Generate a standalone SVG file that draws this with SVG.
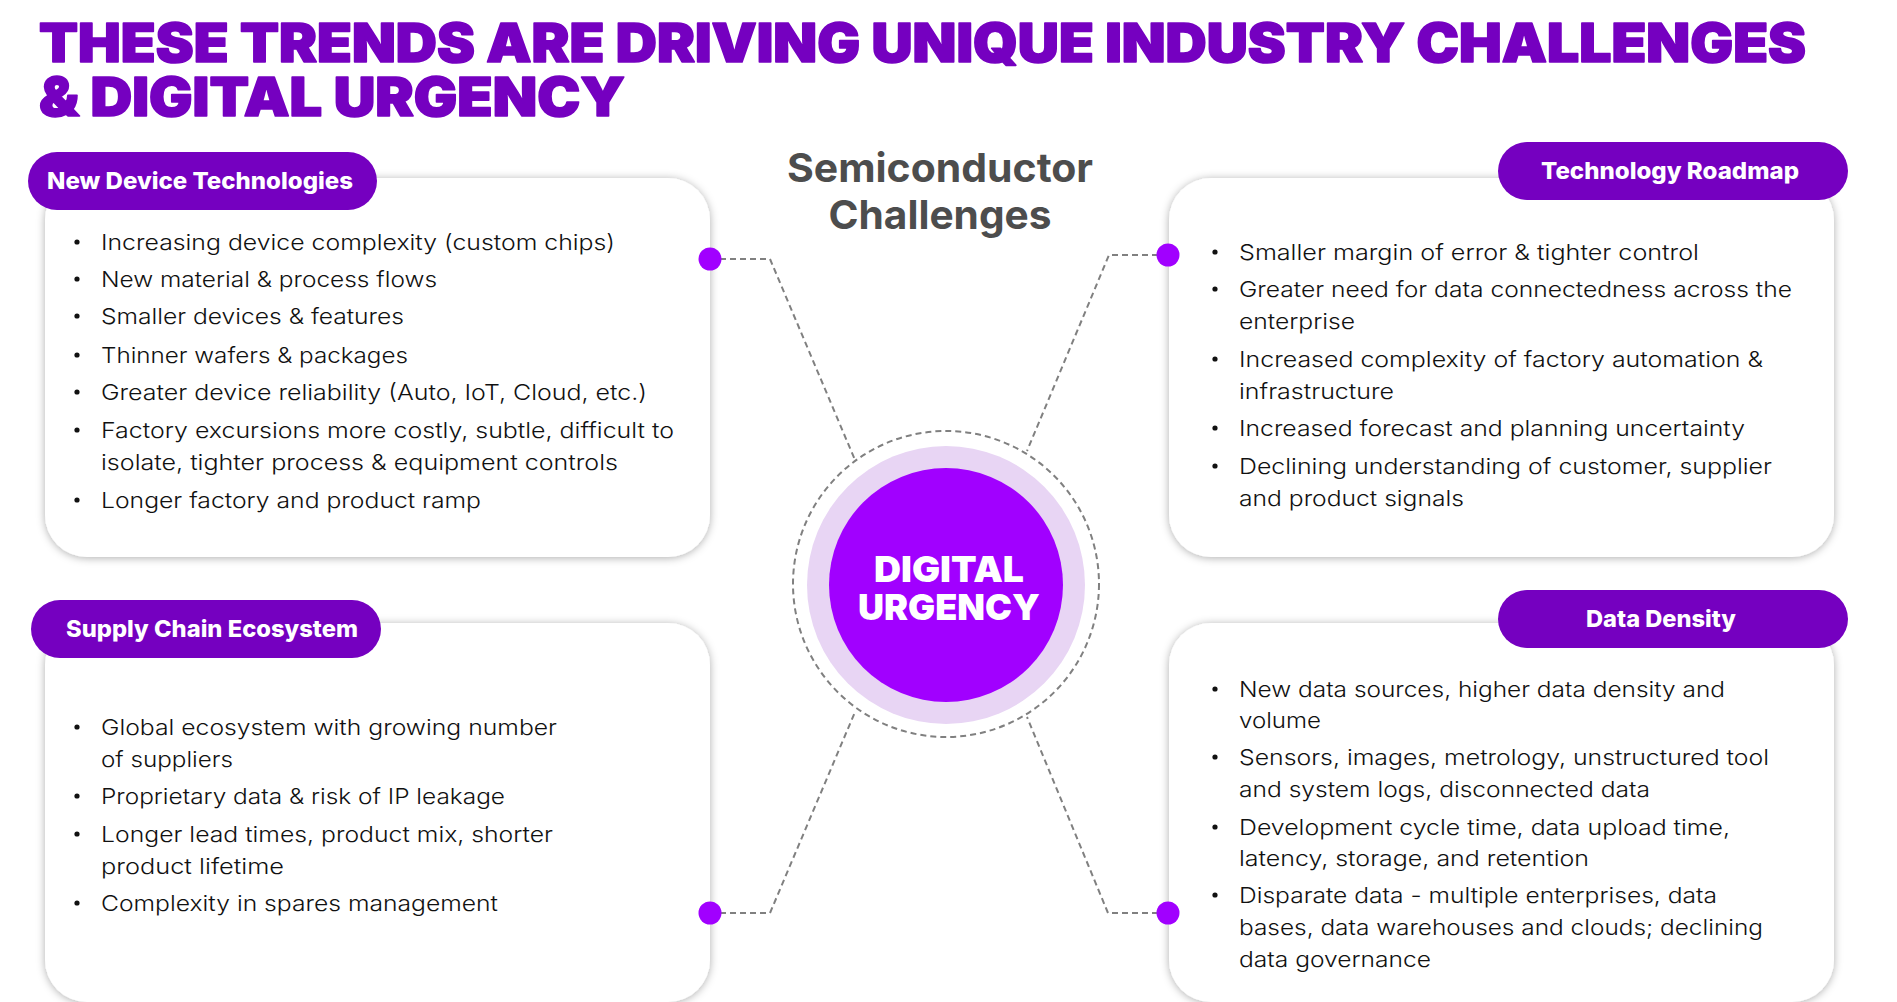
<svg xmlns="http://www.w3.org/2000/svg" width="1897" height="1002" viewBox="0 0 1897 1002">
  <defs>
    <filter id="cardShadow" x="-10%" y="-10%" width="120%" height="120%">
      <feDropShadow dx="0" dy="1" stdDeviation="4.5" flood-color="#000000" flood-opacity="0.32"/>
    </filter>
  </defs>
  <style>
    .title { font-family: Inter, Roboto, "Liberation Sans", sans-serif; font-weight: 900; font-size: 53px; fill: #7500C0; stroke: #7500C0; stroke-width: 1.6; stroke-linejoin: round; }
    .card { fill: #FFFFFF; filter: url(#cardShadow); }
    .pill { fill: #7500C0; }
    .pill-label { font-family: Inter, Roboto, "Liberation Sans", sans-serif; font-weight: 800; font-size: 23px; fill: #FFFFFF; }
    .item { font-family: Inter, Roboto, "Liberation Sans", sans-serif; font-weight: 300; font-size: 22px; fill: #111111; }
    .dot { fill: #111111; }
    .link { fill: none; stroke: #808080; stroke-width: 2; stroke-dasharray: 6 4; }
    .anchor { fill: #A100FF; }
    .heading { font-family: Inter, Roboto, "Liberation Sans", sans-serif; font-weight: 700; font-size: 40px; fill: #4D4D4D; text-anchor: middle; }
    .hub-label { font-family: Inter, "Liberation Sans", Arial, sans-serif; font-weight: 900; font-size: 36px; fill: #FFFFFF; }
  </style>

  <rect x="0" y="0" width="1897" height="1002" fill="#FFFFFF"/>

  <!-- Page title -->
  <g id="title">
    <text class="title" x="39" y="62" textLength="1767" lengthAdjust="spacingAndGlyphs">THESE TRENDS ARE DRIVING UNIQUE INDUSTRY CHALLENGES</text>
    <text class="title" x="39" y="116" textLength="586" lengthAdjust="spacingAndGlyphs">&amp; DIGITAL URGENCY</text>
  </g>

  <!-- Centre heading -->
  <g id="heading-semiconductor-challenges">
    <text class="heading" x="940" y="182" textLength="306" lengthAdjust="spacingAndGlyphs">Semiconductor</text>
    <text class="heading" x="940" y="229" textLength="223" lengthAdjust="spacingAndGlyphs">Challenges</text>
  </g>

  <!-- Card: New Device Technologies -->
  <g id="node-new-device-technologies">
    <rect class="card" x="45" y="178" width="665" height="379" rx="42"/>
    <rect class="pill" x="28" y="152" width="349" height="58" rx="29"/>
    <text class="pill-label" x="47" y="189" textLength="306" lengthAdjust="spacingAndGlyphs">New Device Technologies</text>
    <circle class="dot" cx="77" cy="242" r="2.6"/>
    <text class="item" x="101" y="250" textLength="514" lengthAdjust="spacingAndGlyphs">Increasing device complexity (custom chips)</text>
    <circle class="dot" cx="77" cy="279" r="2.6"/>
    <text class="item" x="101" y="287" textLength="336" lengthAdjust="spacingAndGlyphs">New material &amp; process flows</text>
    <circle class="dot" cx="77" cy="316" r="2.6"/>
    <text class="item" x="101" y="324" textLength="303" lengthAdjust="spacingAndGlyphs">Smaller devices &amp; features</text>
    <circle class="dot" cx="77" cy="355" r="2.6"/>
    <text class="item" x="101" y="363" textLength="307" lengthAdjust="spacingAndGlyphs">Thinner wafers &amp; packages</text>
    <circle class="dot" cx="77" cy="392" r="2.6"/>
    <text class="item" x="101" y="400" textLength="546" lengthAdjust="spacingAndGlyphs">Greater device reliability (Auto, IoT, Cloud, etc.)</text>
    <circle class="dot" cx="77" cy="430" r="2.6"/>
    <text class="item" x="101" y="438" textLength="573" lengthAdjust="spacingAndGlyphs">Factory excursions more costly, subtle, difficult to</text>
    <text class="item" x="101" y="470" textLength="517" lengthAdjust="spacingAndGlyphs">isolate, tighter process &amp; equipment controls</text>
    <circle class="dot" cx="77" cy="500" r="2.6"/>
    <text class="item" x="101" y="508" textLength="380" lengthAdjust="spacingAndGlyphs">Longer factory and product ramp</text>
  </g>

  <!-- Card: Technology Roadmap -->
  <g id="node-technology-roadmap">
    <rect class="card" x="1169" y="178" width="665" height="379" rx="42"/>
    <rect class="pill" x="1498" y="142" width="350" height="58" rx="29"/>
    <text class="pill-label" x="1541" y="179" textLength="258" lengthAdjust="spacingAndGlyphs">Technology Roadmap</text>
    <circle class="dot" cx="1215" cy="252" r="2.6"/>
    <text class="item" x="1239" y="260" textLength="460" lengthAdjust="spacingAndGlyphs">Smaller margin of error &amp; tighter control</text>
    <circle class="dot" cx="1215" cy="289" r="2.6"/>
    <text class="item" x="1239" y="297" textLength="553" lengthAdjust="spacingAndGlyphs">Greater need for data connectedness across the</text>
    <text class="item" x="1239" y="329" textLength="116" lengthAdjust="spacingAndGlyphs">enterprise</text>
    <circle class="dot" cx="1215" cy="359" r="2.6"/>
    <text class="item" x="1239" y="367" textLength="524" lengthAdjust="spacingAndGlyphs">Increased complexity of factory automation &amp;</text>
    <text class="item" x="1239" y="399" textLength="155" lengthAdjust="spacingAndGlyphs">infrastructure</text>
    <circle class="dot" cx="1215" cy="428" r="2.6"/>
    <text class="item" x="1239" y="436" textLength="506" lengthAdjust="spacingAndGlyphs">Increased forecast and planning uncertainty</text>
    <circle class="dot" cx="1215" cy="466" r="2.6"/>
    <text class="item" x="1239" y="474" textLength="533" lengthAdjust="spacingAndGlyphs">Declining understanding of customer, supplier</text>
    <text class="item" x="1239" y="506" textLength="225" lengthAdjust="spacingAndGlyphs">and product signals</text>
  </g>

  <!-- Card: Supply Chain Ecosystem -->
  <g id="node-supply-chain-ecosystem">
    <rect class="card" x="45" y="623" width="665" height="379" rx="42"/>
    <rect class="pill" x="31" y="600" width="350" height="58" rx="29"/>
    <text class="pill-label" x="66" y="637" textLength="292" lengthAdjust="spacingAndGlyphs">Supply Chain Ecosystem</text>
    <circle class="dot" cx="77" cy="727" r="2.6"/>
    <text class="item" x="101" y="735" textLength="456" lengthAdjust="spacingAndGlyphs">Global ecosystem with growing number</text>
    <text class="item" x="101" y="767" textLength="132" lengthAdjust="spacingAndGlyphs">of suppliers</text>
    <circle class="dot" cx="77" cy="796" r="2.6"/>
    <text class="item" x="101" y="804" textLength="404" lengthAdjust="spacingAndGlyphs">Proprietary data &amp; risk of IP leakage</text>
    <circle class="dot" cx="77" cy="834" r="2.6"/>
    <text class="item" x="101" y="842" textLength="452" lengthAdjust="spacingAndGlyphs">Longer lead times, product mix, shorter</text>
    <text class="item" x="101" y="874" textLength="183" lengthAdjust="spacingAndGlyphs">product lifetime</text>
    <circle class="dot" cx="77" cy="903" r="2.6"/>
    <text class="item" x="101" y="911" textLength="397" lengthAdjust="spacingAndGlyphs">Complexity in spares management</text>
  </g>

  <!-- Card: Data Density -->
  <g id="node-data-density">
    <rect class="card" x="1169" y="623" width="665" height="379" rx="42"/>
    <rect class="pill" x="1498" y="590" width="350" height="58" rx="29"/>
    <text class="pill-label" x="1586" y="627" textLength="150" lengthAdjust="spacingAndGlyphs">Data Density</text>
    <circle class="dot" cx="1215" cy="689" r="2.6"/>
    <text class="item" x="1239" y="697" textLength="486" lengthAdjust="spacingAndGlyphs">New data sources, higher data density and</text>
    <text class="item" x="1239" y="728" textLength="82" lengthAdjust="spacingAndGlyphs">volume</text>
    <circle class="dot" cx="1215" cy="757" r="2.6"/>
    <text class="item" x="1239" y="765" textLength="530" lengthAdjust="spacingAndGlyphs">Sensors, images, metrology, unstructured tool</text>
    <text class="item" x="1239" y="797" textLength="411" lengthAdjust="spacingAndGlyphs">and system logs, disconnected data</text>
    <circle class="dot" cx="1215" cy="827" r="2.6"/>
    <text class="item" x="1239" y="835" textLength="491" lengthAdjust="spacingAndGlyphs">Development cycle time, data upload time,</text>
    <text class="item" x="1239" y="866" textLength="350" lengthAdjust="spacingAndGlyphs">latency, storage, and retention</text>
    <circle class="dot" cx="1215" cy="895" r="2.6"/>
    <text class="item" x="1239" y="903" textLength="478" lengthAdjust="spacingAndGlyphs">Disparate data - multiple enterprises, data</text>
    <text class="item" x="1239" y="935" textLength="524" lengthAdjust="spacingAndGlyphs">bases, data warehouses and clouds; declining</text>
    <text class="item" x="1239" y="967" textLength="192" lengthAdjust="spacingAndGlyphs">data governance</text>
  </g>

  <!-- Dashed links from each card to the hub -->
  <g id="connectors">
    <path class="link" d="M710 259 H770 L855 460"/>
    <path class="link" d="M1168 255 H1109 L1027 451"/>
    <path class="link" d="M710 913 H770 L855 712"/>
    <path class="link" d="M1168 913 H1108 L1027 717"/>
    <circle class="anchor" cx="710" cy="259" r="11.5"/>
    <circle class="anchor" cx="1168" cy="255" r="11.5"/>
    <circle class="anchor" cx="710" cy="913" r="11.5"/>
    <circle class="anchor" cx="1168" cy="913" r="11.5"/>
  </g>

  <!-- Hub: Digital Urgency -->
  <g id="node-digital-urgency">
    <circle class="link" cx="946" cy="584" r="153"/>
    <circle cx="946" cy="585" r="139" fill="#E8D5F4"/>
    <circle cx="946" cy="585" r="117" fill="#A100FF"/>
    <text class="hub-label" x="874" y="582" textLength="150" lengthAdjust="spacingAndGlyphs">DIGITAL</text>
    <text class="hub-label" x="858" y="620" textLength="182" lengthAdjust="spacingAndGlyphs">URGENCY</text>
  </g>
</svg>
